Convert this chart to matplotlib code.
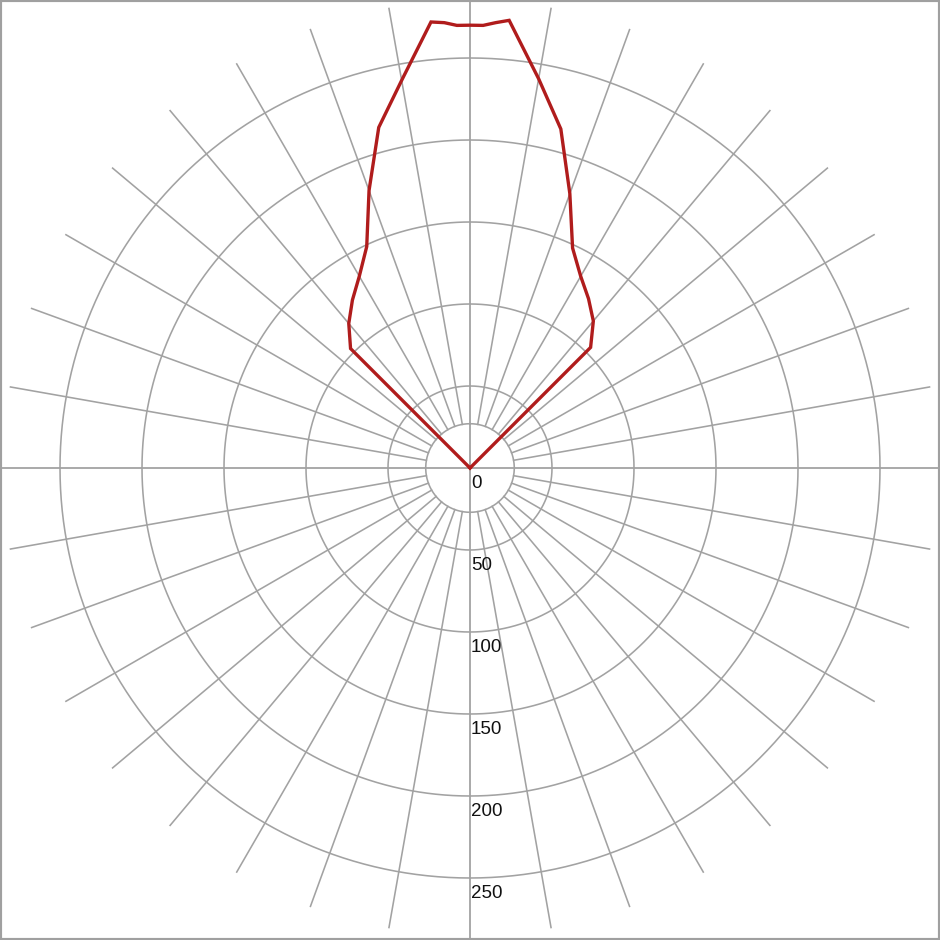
import numpy as np
import matplotlib
matplotlib.use("Agg")
import matplotlib.pyplot as plt
from matplotlib.patches import Rectangle

# intensity curve (angle from the upward vertical, degrees -> value)
angles_deg = [-50, -45, -40, -35, -30, -25, -20, -15, -10, -5, -3.3, -1.7,
              0, 1.7, 3.3, 5, 10, 15, 20, 25, 30, 35, 40, 45, 50]
intensity = [0, 103, 115, 125, 135, 149, 180, 215, 240, 273, 272, 270,
             270, 270, 272, 274, 241, 214, 178, 148, 135, 126, 117, 104, 0]

# grid
ring_values = [50, 100, 150, 200, 250]
inner_ring = 27
spoke_step = 10
r_max = 285
ring_labels = [0, 50, 100, 150, 200, 250]

grid_col = '#a2a2a2'
curve_col = '#b01c1c'

fig = plt.figure(figsize=(9.4, 9.4), dpi=100)
fig.patch.set_facecolor('white')

# place polar axes so the centre sits at pixel (470, 468)
R_px = r_max * 1.64
w = 2 * R_px / 940
cx, cy = 470 / 940, (940 - 468) / 940
ax = fig.add_axes([cx - w / 2, cy - w / 2, w, w], projection='polar')
ax.set_theta_zero_location('N')
ax.set_theta_direction(-1)
ax.set_ylim(0, r_max)
ax.grid(False)
ax.set_xticks([])
ax.set_yticks([])
ax.spines['polar'].set_visible(False)
ax.patch.set_alpha(0)

full = np.linspace(0, 2 * np.pi, 721)
for rv in ring_values + [inner_ring]:
    ax.plot(full, np.full_like(full, rv), color=grid_col, lw=1.15, zorder=1)

# spokes every 10 degrees, starting at the inner ring
for a in range(0, 360, spoke_step):
    if a % 90 == 0:
        continue
    t = np.deg2rad(a)
    ax.plot([t, t], [inner_ring, r_max], color=grid_col, lw=1.15, zorder=1)

# main axes run right through to the edges of the picture
for a in [0, 90, 180, 270]:
    t = np.deg2rad(a)
    ax.plot([t, t], [0, 300], color=grid_col, lw=1.3, zorder=1, clip_on=False)

# curve
ax.plot(np.deg2rad(angles_deg), intensity, color=curve_col, lw=2.4,
        zorder=3, solid_joinstyle='miter')

for v in ring_labels:
    ax.annotate(str(v), xy=(np.pi, v), xytext=(1, -15),
                textcoords='offset pixels', ha='left', va='center',
                fontsize=13.5, family='Liberation Sans', color='#111111',
                zorder=4)

fig.add_artist(Rectangle((0, 0), 1, 1, transform=fig.transFigure, fill=False,
                         edgecolor='#a0a0a0', lw=3))

fig.savefig('out.png', dpi=100)
